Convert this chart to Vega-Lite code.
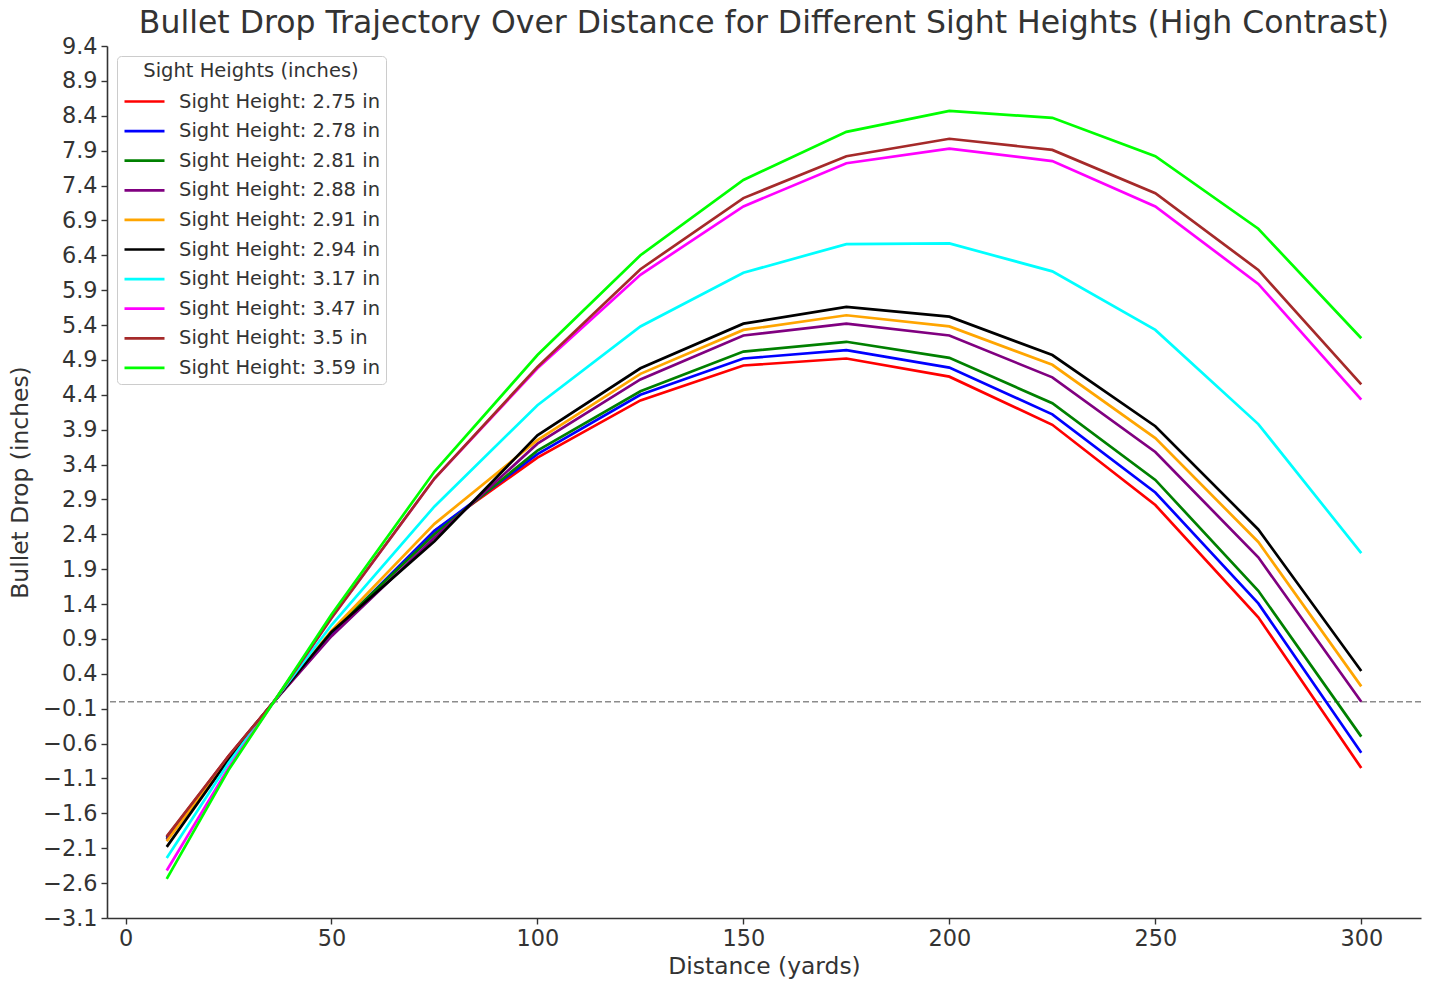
{
  "$schema": "https://vega.github.io/schema/vega-lite/v6.json",
  "width": 1314,
  "height": 872,
  "autosize": {"type": "none"},
  "padding": {"left": 107, "top": 46, "right": 10, "bottom": 65},
  "background": "white",
  "config": {
    "font": "DejaVu Sans",
    "view": {"stroke": null},
    "axis": {
      "grid": false,
      "domainColor": "#333333",
      "tickColor": "#333333",
      "domainWidth": 1.6,
      "tickWidth": 1.4,
      "tickSize": 6,
      "labelFontSize": 22.4,
      "labelColor": "#333333",
      "labelOverlap": false,
      "labelFlush": false,
      "titleFontSize": 23.4,
      "titleColor": "#333333",
      "titleFontWeight": "normal",
      "labelFont": "DejaVu Sans",
      "titleFont": "DejaVu Sans"
    }
  },
  "title": {
    "text": "Bullet Drop Trajectory Over Distance for Different Sight Heights (High Contrast)",
    "fontSize": 31.5,
    "fontWeight": "normal",
    "color": "#333333",
    "font": "DejaVu Sans",
    "anchor": "middle",
    "frame": "group",
    "baseline": "alphabetic",
    "offset": 13,
    "dy": 42,
    "limit": 1431
  },
  "layer": [
    {
      "data": {"values": [{"y": 0}]},
      "mark": {"type": "rule", "color": "#8c8c8c", "strokeWidth": 1.5, "strokeDash": [6, 3]},
      "encoding": {
        "y": {"field": "y", "type": "quantitative", "scale": {"domain": [-3.1, 9.4], "nice": false, "zero": false}}
      }
    },
    {
      "data": {
        "values": [
          {"d": 10, "s": 2.75, "v": -1.94}, {"d": 25, "s": 2.75, "v": -0.78}, {"d": 36, "s": 2.75, "v": 0}, {"d": 50, "s": 2.75, "v": 0.96}, {"d": 75, "s": 2.75, "v": 2.45}, {"d": 100, "s": 2.75, "v": 3.5}, {"d": 125, "s": 2.75, "v": 4.32}, {"d": 150, "s": 2.75, "v": 4.82}, {"d": 175, "s": 2.75, "v": 4.92}, {"d": 200, "s": 2.75, "v": 4.66}, {"d": 225, "s": 2.75, "v": 3.97}, {"d": 250, "s": 2.75, "v": 2.82}, {"d": 275, "s": 2.75, "v": 1.21}, {"d": 300, "s": 2.75, "v": -0.95},
          {"d": 10, "s": 2.78, "v": -1.95}, {"d": 25, "s": 2.78, "v": -0.79}, {"d": 36, "s": 2.78, "v": 0}, {"d": 50, "s": 2.78, "v": 0.98}, {"d": 75, "s": 2.78, "v": 2.45}, {"d": 100, "s": 2.78, "v": 3.55}, {"d": 125, "s": 2.78, "v": 4.4}, {"d": 150, "s": 2.78, "v": 4.92}, {"d": 175, "s": 2.78, "v": 5.04}, {"d": 200, "s": 2.78, "v": 4.79}, {"d": 225, "s": 2.78, "v": 4.12}, {"d": 250, "s": 2.78, "v": 3.0}, {"d": 275, "s": 2.78, "v": 1.41}, {"d": 300, "s": 2.78, "v": -0.73},
          {"d": 10, "s": 2.81, "v": -1.97}, {"d": 25, "s": 2.81, "v": -0.8}, {"d": 36, "s": 2.81, "v": 0}, {"d": 50, "s": 2.81, "v": 1.0}, {"d": 75, "s": 2.81, "v": 2.4}, {"d": 100, "s": 2.81, "v": 3.6}, {"d": 125, "s": 2.81, "v": 4.45}, {"d": 150, "s": 2.81, "v": 5.02}, {"d": 175, "s": 2.81, "v": 5.16}, {"d": 200, "s": 2.81, "v": 4.93}, {"d": 225, "s": 2.81, "v": 4.28}, {"d": 250, "s": 2.81, "v": 3.18}, {"d": 275, "s": 2.81, "v": 1.59}, {"d": 300, "s": 2.81, "v": -0.5},
          {"d": 10, "s": 2.88, "v": -1.98}, {"d": 25, "s": 2.88, "v": -0.8}, {"d": 36, "s": 2.88, "v": 0}, {"d": 50, "s": 2.88, "v": 0.94}, {"d": 75, "s": 2.88, "v": 2.35}, {"d": 100, "s": 2.88, "v": 3.7}, {"d": 125, "s": 2.88, "v": 4.62}, {"d": 150, "s": 2.88, "v": 5.25}, {"d": 175, "s": 2.88, "v": 5.42}, {"d": 200, "s": 2.88, "v": 5.25}, {"d": 225, "s": 2.88, "v": 4.65}, {"d": 250, "s": 2.88, "v": 3.58}, {"d": 275, "s": 2.88, "v": 2.07}, {"d": 300, "s": 2.88, "v": 0.0},
          {"d": 10, "s": 2.91, "v": -2.0}, {"d": 25, "s": 2.91, "v": -0.81}, {"d": 36, "s": 2.91, "v": 0}, {"d": 50, "s": 2.91, "v": 1.02}, {"d": 75, "s": 2.91, "v": 2.55}, {"d": 100, "s": 2.91, "v": 3.75}, {"d": 125, "s": 2.91, "v": 4.7}, {"d": 150, "s": 2.91, "v": 5.33}, {"d": 175, "s": 2.91, "v": 5.54}, {"d": 200, "s": 2.91, "v": 5.38}, {"d": 225, "s": 2.91, "v": 4.83}, {"d": 250, "s": 2.91, "v": 3.78}, {"d": 275, "s": 2.91, "v": 2.29}, {"d": 300, "s": 2.91, "v": 0.22},
          {"d": 10, "s": 2.94, "v": -2.08}, {"d": 25, "s": 2.94, "v": -0.83}, {"d": 36, "s": 2.94, "v": 0}, {"d": 50, "s": 2.94, "v": 1.0}, {"d": 75, "s": 2.94, "v": 2.3}, {"d": 100, "s": 2.94, "v": 3.82}, {"d": 125, "s": 2.94, "v": 4.78}, {"d": 150, "s": 2.94, "v": 5.42}, {"d": 175, "s": 2.94, "v": 5.66}, {"d": 200, "s": 2.94, "v": 5.52}, {"d": 225, "s": 2.94, "v": 4.97}, {"d": 250, "s": 2.94, "v": 3.95}, {"d": 275, "s": 2.94, "v": 2.47}, {"d": 300, "s": 2.94, "v": 0.44},
          {"d": 10, "s": 3.17, "v": -2.24}, {"d": 25, "s": 3.17, "v": -0.88}, {"d": 36, "s": 3.17, "v": 0}, {"d": 50, "s": 3.17, "v": 1.1}, {"d": 75, "s": 3.17, "v": 2.8}, {"d": 100, "s": 3.17, "v": 4.25}, {"d": 125, "s": 3.17, "v": 5.38}, {"d": 150, "s": 3.17, "v": 6.15}, {"d": 175, "s": 3.17, "v": 6.56}, {"d": 200, "s": 3.17, "v": 6.57}, {"d": 225, "s": 3.17, "v": 6.17}, {"d": 250, "s": 3.17, "v": 5.33}, {"d": 275, "s": 3.17, "v": 3.98}, {"d": 300, "s": 3.17, "v": 2.13},
          {"d": 10, "s": 3.47, "v": -2.42}, {"d": 25, "s": 3.47, "v": -0.95}, {"d": 36, "s": 3.47, "v": 0}, {"d": 50, "s": 3.47, "v": 1.2}, {"d": 75, "s": 3.47, "v": 3.2}, {"d": 100, "s": 3.47, "v": 4.78}, {"d": 125, "s": 3.47, "v": 6.12}, {"d": 150, "s": 3.47, "v": 7.1}, {"d": 175, "s": 3.47, "v": 7.72}, {"d": 200, "s": 3.47, "v": 7.93}, {"d": 225, "s": 3.47, "v": 7.75}, {"d": 250, "s": 3.47, "v": 7.1}, {"d": 275, "s": 3.47, "v": 5.99}, {"d": 300, "s": 3.47, "v": 4.33},
          {"d": 10, "s": 3.5, "v": -1.93}, {"d": 25, "s": 3.5, "v": -0.78}, {"d": 36, "s": 3.5, "v": 0}, {"d": 50, "s": 3.5, "v": 1.2}, {"d": 75, "s": 3.5, "v": 3.2}, {"d": 100, "s": 3.5, "v": 4.8}, {"d": 125, "s": 3.5, "v": 6.2}, {"d": 150, "s": 3.5, "v": 7.22}, {"d": 175, "s": 3.5, "v": 7.82}, {"d": 200, "s": 3.5, "v": 8.07}, {"d": 225, "s": 3.5, "v": 7.91}, {"d": 250, "s": 3.5, "v": 7.29}, {"d": 275, "s": 3.5, "v": 6.19}, {"d": 300, "s": 3.5, "v": 4.55},
          {"d": 10, "s": 3.59, "v": -2.54}, {"d": 25, "s": 3.59, "v": -0.98}, {"d": 36, "s": 3.59, "v": 0}, {"d": 50, "s": 3.59, "v": 1.25}, {"d": 75, "s": 3.59, "v": 3.3}, {"d": 100, "s": 3.59, "v": 4.97}, {"d": 125, "s": 3.59, "v": 6.4}, {"d": 150, "s": 3.59, "v": 7.48}, {"d": 175, "s": 3.59, "v": 8.17}, {"d": 200, "s": 3.59, "v": 8.47}, {"d": 225, "s": 3.59, "v": 8.37}, {"d": 250, "s": 3.59, "v": 7.82}, {"d": 275, "s": 3.59, "v": 6.78}, {"d": 300, "s": 3.59, "v": 5.21}
        ]
      },
      "mark": {"type": "line", "strokeWidth": 2.7},
      "encoding": {
        "x": {
          "field": "d", "type": "quantitative", "title": "Distance (yards)",
          "scale": {"domain": [-4.5, 314.5], "nice": false, "zero": false},
          "axis": {"values": [0, 50, 100, 150, 200, 250, 300], "tickCount": 20, "labelPadding": 3, "titlePadding": 6}
        },
        "y": {
          "field": "v", "type": "quantitative", "title": "Bullet Drop (inches)",
          "scale": {"domain": [-3.1, 9.4], "nice": false, "zero": false},
          "axis": {
            "values": [-3.1, -2.6, -2.1, -1.6, -1.1, -0.6, -0.1, 0.4, 0.9, 1.4, 1.9, 2.4, 2.9, 3.4, 3.9, 4.4, 4.9, 5.4, 5.9, 6.4, 6.9, 7.4, 7.9, 8.4, 8.9, 9.4],
            "tickCount": 40,
            "format": ".1f", "labelPadding": 4, "titlePadding": 10
          }
        },
        "color": {
          "field": "s", "type": "nominal",
          "scale": {
            "domain": [2.75, 2.78, 2.81, 2.88, 2.91, 2.94, 3.17, 3.47, 3.5, 3.59],
            "range": ["#ff0000", "#0000ff", "#008000", "#800080", "#ffa500", "#000000", "#00ffff", "#ff00ff", "#a52a2a", "#00ff00"]
          },
          "legend": {
            "title": "Sight Heights (inches)",
            "labelExpr": "'Sight Height: ' + datum.label + ' in'",
            "orient": "top-left",
            "offset": 10,
            "symbolType": "stroke",
            "symbolSize": 1600,
            "symbolStrokeWidth": 2.7,
            "clipHeight": 20,
            "rowPadding": 9.6,
            "labelFontSize": 19.5,
            "labelColor": "#333333",
            "labelLimit": 400,
            "labelOffset": 13,
            "titleFontSize": 19.5,
            "titleFontWeight": "normal",
            "titleColor": "#333333",
            "titleAnchor": "middle",
            "titleLimit": 400,
            "titlePadding": 10,
            "padding": 6,
            "strokeColor": "#cccccc",
            "fillColor": "white",
            "cornerRadius": 4
          }
        }
      }
    }
  ]
}
